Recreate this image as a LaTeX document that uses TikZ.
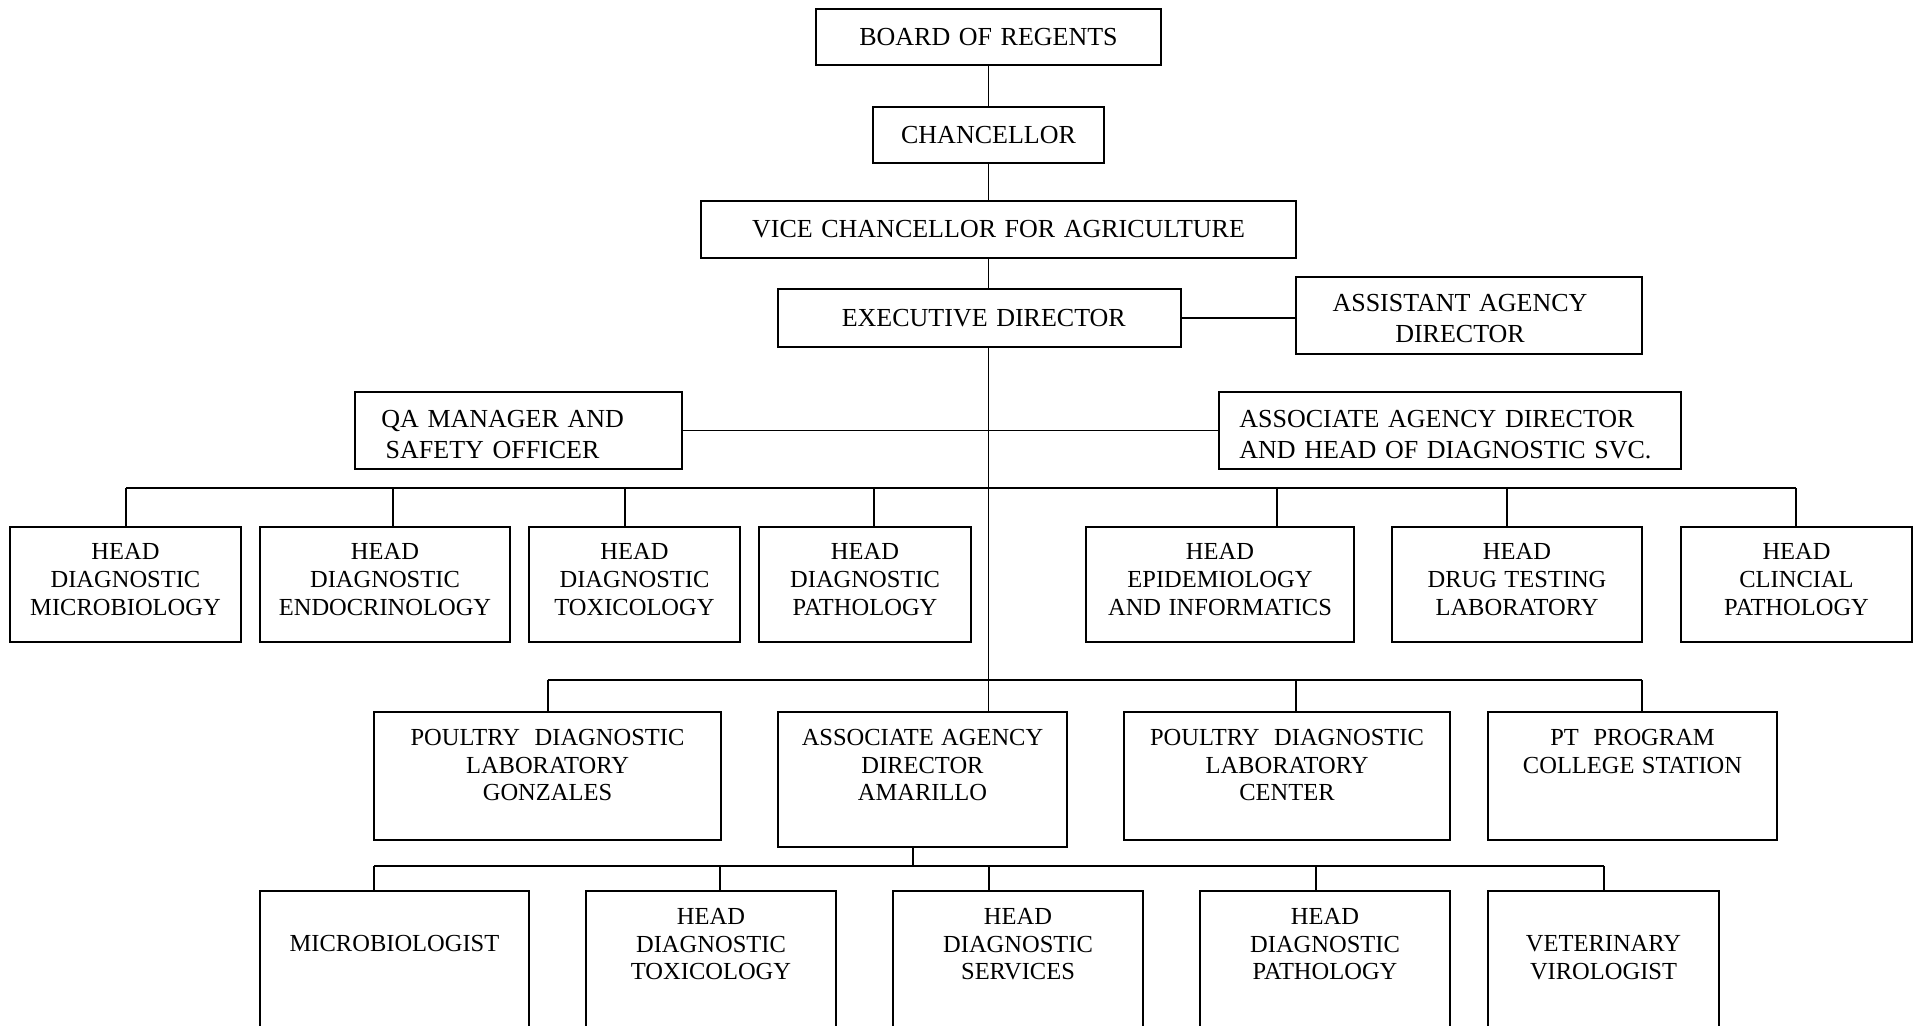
\documentclass[tikz,border=0pt]{standalone}
\usepackage{fontspec}
\setmainfont{Liberation Serif}
\newcommand{\orgfont}{\fontsize{24.5}{27.6}\selectfont\spaceskip=0.3em plus 0.1em\relax}
\newcommand{\topfont}{\fontsize{26}{30.6}\selectfont\spaceskip=0.33em plus 0.1em\relax}
\tikzset{
  unit/.style={draw, line width=1.6pt, inner sep=0pt, align=center},
  inlabel/.style={inner sep=0pt, align=center, font=\orgfont},
  toplabel/.style={inner sep=0pt, font=\topfont},
  wire/.style={line width=1.4pt}
}

\begin{document}
\begin{tikzpicture}[x=1pt,y=-1pt,font=\orgfont]
\useasboundingbox (0,0) rectangle (1921,1025);
% top of the chart
\node[unit,font=\topfont,minimum width=345pt,minimum height=56pt] (regents) at (988.5,37) {BOARD OF REGENTS};
\node[unit,font=\topfont,minimum width=231pt,minimum height=56pt] (chancellor) at (988.5,135) {CHANCELLOR};
\node[unit,font=\topfont,minimum width=595pt,minimum height=57pt] (vicechan) at (998.5,229.5) {VICE CHANCELLOR FOR AGRICULTURE};
\node[unit,font=\topfont,minimum width=403pt,minimum height=58pt] (execdir) at (979.5,318) {\ EXECUTIVE DIRECTOR};
\node[unit,minimum width=346pt,minimum height=77pt,
  label={[toplabel,align=center,yshift=-3pt,xshift=-9pt]center:{ASSISTANT AGENCY\\DIRECTOR}}] (asstdir) at (1469,315.5) {};
\node[unit,minimum width=327pt,minimum height=77pt,
  label={[toplabel,anchor=west,align=left,xshift=27pt,yshift=-4pt]west:{QA MANAGER AND\\\,SAFETY OFFICER}}] (qaman) at (518.5,430.5) {};
\node[unit,minimum width=462pt,minimum height=77pt,
  label={[toplabel,anchor=west,align=left,xshift=21pt,yshift=-4pt]west:{ASSOCIATE AGENCY DIRECTOR\\AND HEAD OF DIAGNOSTIC SVC.}}] (assocdir) at (1450,430.5) {};
% heads
\node[unit,minimum width=231pt,minimum height=115pt,
  label={[inlabel,yshift=5pt]center:{HEAD\\DIAGNOSTIC\\MICROBIOLOGY}}] (hmicro) at (125.5,584.5) {};
\node[unit,minimum width=250pt,minimum height=115pt,
  label={[inlabel,yshift=5pt]center:{HEAD\\DIAGNOSTIC\\ENDOCRINOLOGY}}] (hendo) at (385,584.5) {};
\node[unit,minimum width=211pt,minimum height=115pt,
  label={[inlabel,yshift=5pt]center:{HEAD\\DIAGNOSTIC\\TOXICOLOGY}}] (htox) at (634.5,584.5) {};
\node[unit,minimum width=212pt,minimum height=115pt,
  label={[inlabel,yshift=5pt]center:{HEAD\\DIAGNOSTIC\\PATHOLOGY}}] (hpath) at (865,584.5) {};
\node[unit,minimum width=268pt,minimum height=115pt,
  label={[inlabel,yshift=5pt]center:{HEAD\\EPIDEMIOLOGY\\AND INFORMATICS}}] (hepi) at (1220,584.5) {};
\node[unit,minimum width=250pt,minimum height=115pt,
  label={[inlabel,yshift=5pt]center:{HEAD\\DRUG TESTING\\LABORATORY}}] (hdrug) at (1517,584.5) {};
\node[unit,minimum width=231pt,minimum height=115pt,
  label={[inlabel,yshift=5pt]center:{HEAD\\CLINCIAL\\PATHOLOGY}}] (hclin) at (1796.5,584.5) {};
% labs
\node[unit,minimum width=347pt,minimum height=128pt,
  label={[inlabel,anchor=north,yshift=-18pt]north:{POULTRY\ \ DIAGNOSTIC\\LABORATORY\\GONZALES}}] (gonzales) at (547.5,776) {};
\node[unit,minimum width=289pt,minimum height=135pt,
  label={[inlabel,anchor=north,yshift=-18pt]north:{ASSOCIATE AGENCY\\DIRECTOR\\AMARILLO}}] (amarillo) at (922.5,779.5) {};
\node[unit,minimum width=326pt,minimum height=128pt,
  label={[inlabel,anchor=north,yshift=-18pt]north:{POULTRY\ \ DIAGNOSTIC\\LABORATORY\\CENTER}}] (center) at (1287,776) {};
\node[unit,minimum width=289pt,minimum height=128pt,
  label={[inlabel,anchor=north,yshift=-18pt]north:{PT\ \ PROGRAM\\COLLEGE STATION}}] (ptprog) at (1632.5,776) {};
% amarillo staff
\node[unit,minimum width=269pt,minimum height=154pt,
  label={[inlabel,anchor=north,yshift=-45pt]north:{MICROBIOLOGIST}}] (amicro) at (394.5,968) {};
\node[unit,minimum width=250pt,minimum height=154pt,
  label={[inlabel,anchor=north,yshift=-18pt]north:{HEAD\\DIAGNOSTIC\\TOXICOLOGY}}] (atox) at (711,968) {};
\node[unit,minimum width=250pt,minimum height=154pt,
  label={[inlabel,anchor=north,yshift=-18pt]north:{HEAD\\DIAGNOSTIC\\SERVICES}}] (aserv) at (1018,968) {};
\node[unit,minimum width=250pt,minimum height=154pt,
  label={[inlabel,anchor=north,yshift=-18pt]north:{HEAD\\DIAGNOSTIC\\PATHOLOGY}}] (apath) at (1325,968) {};
\node[unit,minimum width=231pt,minimum height=154pt,
  label={[inlabel,anchor=north,yshift=-45pt]north:{VETERINARY\\VIROLOGIST}}] (aviro) at (1603.5,968) {};

\coordinate (busA) at (0,488);
\coordinate (busB) at (0,680);
\coordinate (busC) at (0,866);

\draw[wire] (regents) -- (chancellor);
\draw[wire] (chancellor.south) -- (chancellor.south |- vicechan.north);
\draw[wire] (chancellor.south |- vicechan.south) -- (chancellor.south |- execdir.north);
\draw[wire] (execdir.east) -- (execdir.east -| asstdir.west);
\draw[wire] (qaman) -- (assocdir);
\draw[wire] (regents.south |- execdir.south) -- (regents.south |- amarillo.north);

\draw[wire] (busA -| 126,0) -- (busA -| 1796,0);
\foreach \n/\x in {hmicro/126,hendo/393,htox/625,hpath/874,hepi/1277,hdrug/1507,hclin/1796}
  \draw[wire] (busA -| \x,0) -- (\n.north -| \x,0);

\draw[wire] (gonzales.north |- busB) -- (busB -| 1642,0);
\foreach \n/\x in {gonzales/548,center/1296,ptprog/1642}
  \draw[wire] (busB -| \x,0) -- (\n.north -| \x,0);

\draw[wire] (amarillo.south -| 913,0) -- (busC -| 913,0);
\draw[wire] (busC -| 374,0) -- (busC -| 1604,0);
\foreach \n/\x in {amicro/374,atox/720,aserv/989,apath/1316,aviro/1604}
  \draw[wire] (busC -| \x,0) -- (\n.north -| \x,0);
\end{tikzpicture}
\end{document}
